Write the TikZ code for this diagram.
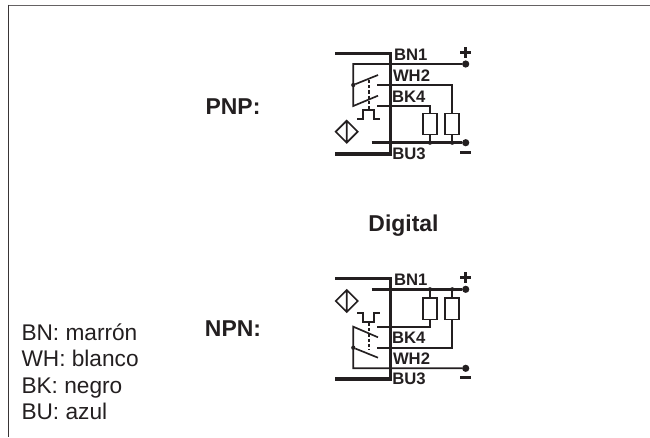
\documentclass[tikz,border=0pt]{standalone}
\usepackage{fontspec}
\setmainfont{Liberation Sans}
\definecolor{ink}{HTML}{231F20}
\tikzset{x=0.75pt,y=-0.75pt,
 every node/.style={inner sep=0pt,outer sep=0pt,text=ink},
 wire/.style={draw=ink,line width=1.25pt,line join=miter},
 heavy/.style={draw=ink,line width=2.3pt,line join=miter},
 lab/.style={font=\bfseries\fontsize{12.5pt}{14pt}\selectfont,anchor=base west},
 big/.style={font=\bfseries\fontsize{17.2pt}{20pt}\selectfont,anchor=base},
 leg/.style={font=\fontsize{17pt}{20pt}\selectfont,anchor=base west},
 loadbox/.style={draw=ink,line width=1.25pt,fill=white,minimum width=10.6pt,minimum height=15.8pt},
 bigdot/.style={circle,fill=ink,minimum size=5.4pt},
 smalldot/.style={circle,fill=ink,minimum size=3.2pt}}
\begin{document}
\begin{tikzpicture}
\useasboundingbox (0,0) rectangle (650,437);
\draw[ink!70,line width=1.4pt] (8,5.5) -- (650,5.5);
\draw[ink!90,line width=1.1pt] (8.3,4.6) -- (8.3,437);
% PNP
\node[big] (pnplabel) at (233,114) {PNP:};
\coordinate (pa) at (335,53.7); \coordinate (pb) at (390.7,53.7);
\coordinate (pc) at (390.7,154); \coordinate (pd) at (335,154);
\draw[heavy] (pa) -- (pb) -- (pc) -- (pd);
\node[bigdot] (pplus) at (465.7,64) {};
\node[bigdot] (pminus) at (465.7,142.7) {};
\coordinate (pgnd) at (371.7,142.7);
\draw[heavy] (pgnd) -- (pminus);
\coordinate (ptl) at (353.3,64); \coordinate (pbl) at (353.3,106);
\draw[wire] (pplus) -- (ptl) -- (pbl) -- (378,95.7);
\node[smalldot] (pj) at (353.3,85) {};
\draw[wire] (pj) -- (378,75);
\node[loadbox] (pb1) at (430,124) {};
\node[loadbox] (pb2) at (452.2,124) {};
\draw[wire] (377.3,85) -- (452.2,85) -- (pb2.north);
\draw[wire] (377.3,106) -- (430,106) -- (pb1.north);
\node[smalldot] (pg1) at (430,142.7) {};
\node[smalldot] (pg2) at (452.2,142.7) {};
\draw[wire] (pb1.south) -- (pg1);
\draw[wire] (pb2.south) -- (pg2);
\draw[wire,dash pattern=on 2.4pt off 1.5pt] (369,80) -- (369,110);
\draw[wire] (357.3,118.7) -- (363.3,118.7) -- (363.3,110) -- (374.3,110) -- (374.3,118.7) -- (380,118.7);
\draw[wire] (346.7,120.7) -- (357.7,131.7) -- (346.7,142.7) -- (335.7,131.7) -- cycle (346.7,120.7) -- (346.7,142.7);
\node[lab] (pbn) at (394,60.7) {BN1};
\node[lab] (pwh) at (393,81.7) {WH2};
\node[lab] (pbk) at (392,102.7) {BK4};
\node[lab] (pbu) at (392.3,159.3) {BU3};
\draw[ink,line width=2pt] (460,52.7) -- (470.6,52.7) (465.3,47.4) -- (465.3,58);
\draw[ink,line width=2.2pt] (460,152.7) -- (470.6,152.7);
% Digital
\node[big] (digital) at (403.5,231) {Digital};
% NPN
\node[big] (npnlabel) at (233,336) {NPN:};
\coordinate (na) at (335,278.7); \coordinate (nb) at (390.7,278.7);
\coordinate (nc) at (390.7,379); \coordinate (nd) at (335,379);
\draw[heavy] (na) -- (nb) -- (nc) -- (nd);
\node[bigdot] (nplus) at (465.7,289.3) {};
\node[bigdot] (nminus) at (465.7,368.3) {};
\coordinate (npow) at (371.7,289.3);
\draw[heavy] (npow) -- (nplus);
\coordinate (ntl) at (353.3,326.7); \coordinate (nbl) at (353.3,368.3);
\draw[wire] (378,337.3) -- (ntl) -- (nbl) -- (nminus);
\node[smalldot] (nj) at (353.3,347.7) {};
\draw[wire] (nj) -- (378,357.7);
\node[loadbox] (nb1) at (430,308.8) {};
\node[loadbox] (nb2) at (452.2,308.8) {};
\draw[wire] (377.3,327.3) -- (430,327.3) -- (nb1.south);
\draw[wire] (377.3,347.7) -- (452.2,347.7) -- (nb2.south);
\node[smalldot] (ng1) at (430,289.3) {};
\node[smalldot] (ng2) at (452.2,289.3) {};
\draw[wire] (nb1.north) -- (ng1);
\draw[wire] (nb2.north) -- (ng2);
\draw[wire,dash pattern=on 2.4pt off 1.5pt] (369,323) -- (369,350);
\draw[wire] (357.3,313.3) -- (363.3,313.3) -- (363.3,322.3) -- (374.3,322.3) -- (374.3,313.3) -- (380,313.3);
\draw[wire] (346.7,290) -- (357.7,301) -- (346.7,312) -- (335.7,301) -- cycle (346.7,290) -- (346.7,312);
\node[lab] (nbn) at (394,285.3) {BN1};
\node[lab] (nbk) at (392,343.3) {BK4};
\node[lab] (nwh) at (393,364) {WH2};
\node[lab] (nbu) at (392.3,384) {BU3};
\draw[ink,line width=2pt] (460,277.3) -- (470.6,277.3) (465.3,272) -- (465.3,282.6);
\draw[ink,line width=2.2pt] (460,377.3) -- (470.6,377.3);
% legend
\node[leg] (l1) at (21.5,340.5) {BN: marrón};
\node[leg] (l2) at (21.5,366.7) {WH: blanco};
\node[leg] (l3) at (21.5,393.2) {BK: negro};
\node[leg] (l4) at (21.5,419.5) {BU: azul};
\end{tikzpicture}
\end{document}
